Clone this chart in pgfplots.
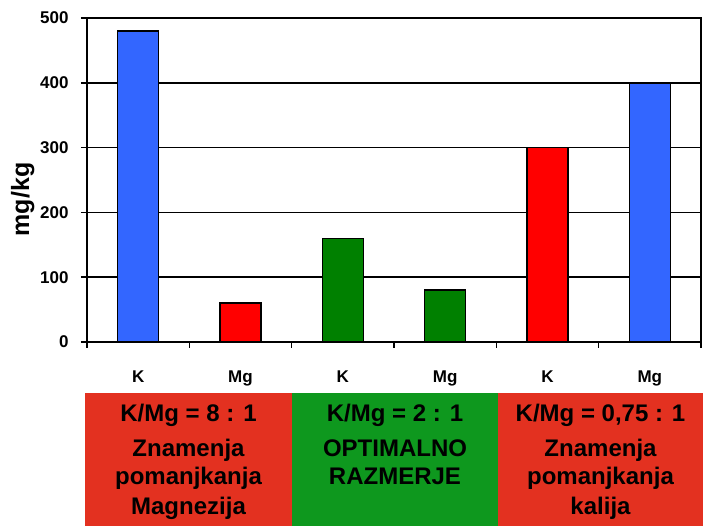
\documentclass[border=0pt]{standalone}
\usepackage{fontspec}
\setmainfont{Liberation Sans}
\usepackage{pgfplots}
\pgfplotsset{compat=1.18}
\definecolor{barblue}{RGB}{51,102,255}
\definecolor{barred}{RGB}{255,0,0}
\definecolor{bargreen}{RGB}{0,128,0}
\definecolor{boxred}{RGB}{227,49,32}
\definecolor{boxgreen}{RGB}{14,152,30}
\begin{document}
\begin{tikzpicture}[x=1pt,y=1pt]
\useasboundingbox (-87,-184) rectangle (616,342);
\begin{axis}[
 at={(0,0)}, anchor=south west,
 scale only axis, width=614pt, height=324pt,
 xmin=-0.5, xmax=5.5, ymin=0, ymax=500,
 xtick pos=bottom, ytick pos=left,
 xtick={-0.5,0.5,...,5.5}, xticklabels={},
 ytick={0,100,...,500},
 ymajorgrids, grid style={black, line width=1.5pt},
 tick align=outside, major tick length=6pt,
 tick style={black, line width=1.5pt},
 axis line style={line width=2pt},
 extra x ticks={0,1,2,3,4,5},
 extra x tick labels={K,Mg,K,Mg,K,Mg},
 extra x tick style={major tick length=0pt, tick label style={yshift=-25pt}, grid=none},
 ticklabel style={font=\fontsize{17}{20}\selectfont\bfseries},
 yticklabel style={xshift=-9pt},
 /pgf/number format/assume math mode=true,
 ylabel={mg/kg},
 ylabel style={font=\fontsize{25}{29}\selectfont\bfseries, at={(axis description cs:-0.08,0.44)}, anchor=south},
]
\addplot[ybar, bar shift=0pt, bar width=0.4, fill=barblue, draw=black, line width=1.5pt] coordinates {(0,480) (5,400)};
\addplot[ybar, bar shift=0pt, bar width=0.4, fill=barred, draw=black, line width=1.5pt] coordinates {(1,60) (4,300)};
\addplot[ybar, bar shift=0pt, bar width=0.4, fill=bargreen, draw=black, line width=1.5pt] coordinates {(2,160) (3,80)};
\end{axis}
\fill[boxred] (-2,-51) rectangle (205,-184);
\fill[boxgreen] (205,-51) rectangle (411,-184);
\fill[boxred] (411,-51) rectangle (616,-184);
\begin{scope}[every node/.style={anchor=base, inner sep=0pt, font=\fontsize{24}{28}\selectfont\bfseries}]
\node at (101.5,-80) {K/Mg = 8 : 1};
\node at (101.5,-115) {Znamenja};
\node at (101.5,-143) {pomanjkanja};
\node at (101.5,-173) {Magnezija};
\node at (308,-80) {K/Mg = 2 : 1};
\node at (308,-115) {OPTIMALNO};
\node at (308,-143) {RAZMERJE};
\node at (513.5,-80) {K/Mg = 0,75 : 1};
\node at (513.5,-115) {Znamenja};
\node at (513.5,-143) {pomanjkanja};
\node at (513.5,-173) {kalija};
\end{scope}
\end{tikzpicture}
\end{document}
